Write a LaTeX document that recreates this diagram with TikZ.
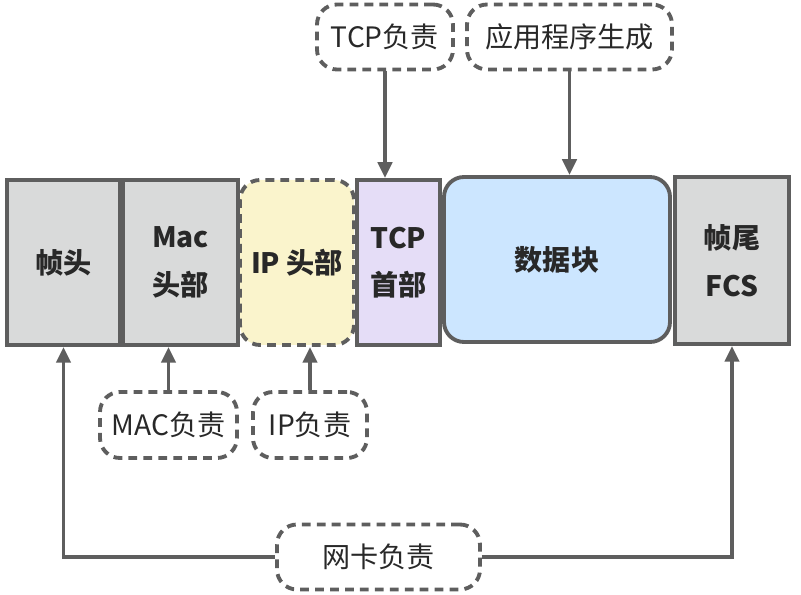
\documentclass[tikz,border=0pt]{standalone}
\usepackage{fontspec}
\setmainfont{Noto Sans CJK SC}
\usetikzlibrary{arrows.meta}
\definecolor{linegray}{RGB}{94,94,94}
\definecolor{boxgray}{RGB}{217,218,218}
\definecolor{ipyellow}{RGB}{250,244,204}
\definecolor{tcppurple}{RGB}{229,221,247}
\definecolor{datablue}{RGB}{204,230,255}
\definecolor{txt}{RGB}{40,40,40}
\tikzset{
	field/.style={draw=linegray, line width=2.2pt, minimum height=3.3cm, align=center,
		text=txt, font=\fontsize{16}{27}\selectfont\bfseries},
	tag/.style={draw=linegray, line width=2.2pt, dash pattern=on 5pt off 3.5pt,
		rounded corners=0.4cm, minimum height=1.3cm, text=txt, font=\fontsize{16}{20}\selectfont},
	arr/.style={draw=linegray, line width=2.2pt, -{Triangle[width=8pt,length=9pt]}}
}
\begin{document}
\begin{tikzpicture}
	\useasboundingbox (0,0) rectangle (16.02,-11.9);
	% fields of the frame
	\node[field, fill=boxgray, minimum width=2.26cm] (head) at (1.27,-5.25) {帧头};
	\node[field, fill=boxgray, minimum width=2.3cm] (mac) at (3.61,-5.25) {Mac\\头部};
	\node[field, fill=ipyellow, minimum width=2.28cm, dash pattern=on 5pt off 3.5pt, rounded corners=0.4cm] (ip) at (5.94,-5.25) {IP 头部};
	\node[field, fill=tcppurple, minimum width=1.66cm] (tcp) at (7.97,-5.25) {TCP\\首部};
	\node[field, fill=datablue, minimum width=4.52cm, rounded corners=0.4cm] (data) at (11.14,-5.19) {数据块};
	\node[field, fill=boxgray, minimum width=2.28cm, minimum height=3.34cm] (fcs) at (14.64,-5.21) {帧尾\\FCS};
	
	% who is responsible
	\node[tag, minimum width=2.72cm] (tcptag) at (7.7,-0.74) {TCP负责};
	\node[tag, minimum width=4.1cm] (apptag) at (11.39,-0.74) {应用程序生成};
	\node[tag, minimum width=2.74cm, minimum height=1.32cm] (mactag) at (3.37,-8.5) {MAC负责};
	\node[tag, minimum width=2.28cm, minimum height=1.32cm] (iptag) at (6.2,-8.5) {IP负责};
	\node[tag, minimum width=4.06cm] (nictag) at (7.57,-11.14) {网卡负责};
	
	\draw[arr] (tcptag.south) -- (tcptag.south |- tcp.north);
	\draw[arr] (apptag.south) -- (apptag.south |- data.north);
	\draw[arr] (mactag.north) -- (mactag.north |- mac.south);
	\draw[arr] (iptag.north) -- (iptag.north |- ip.south);
	\draw[arr] (nictag.west) -| (head.south);
	\draw[arr] (nictag.east) -| (fcs.south);
\end{tikzpicture}
\end{document}
